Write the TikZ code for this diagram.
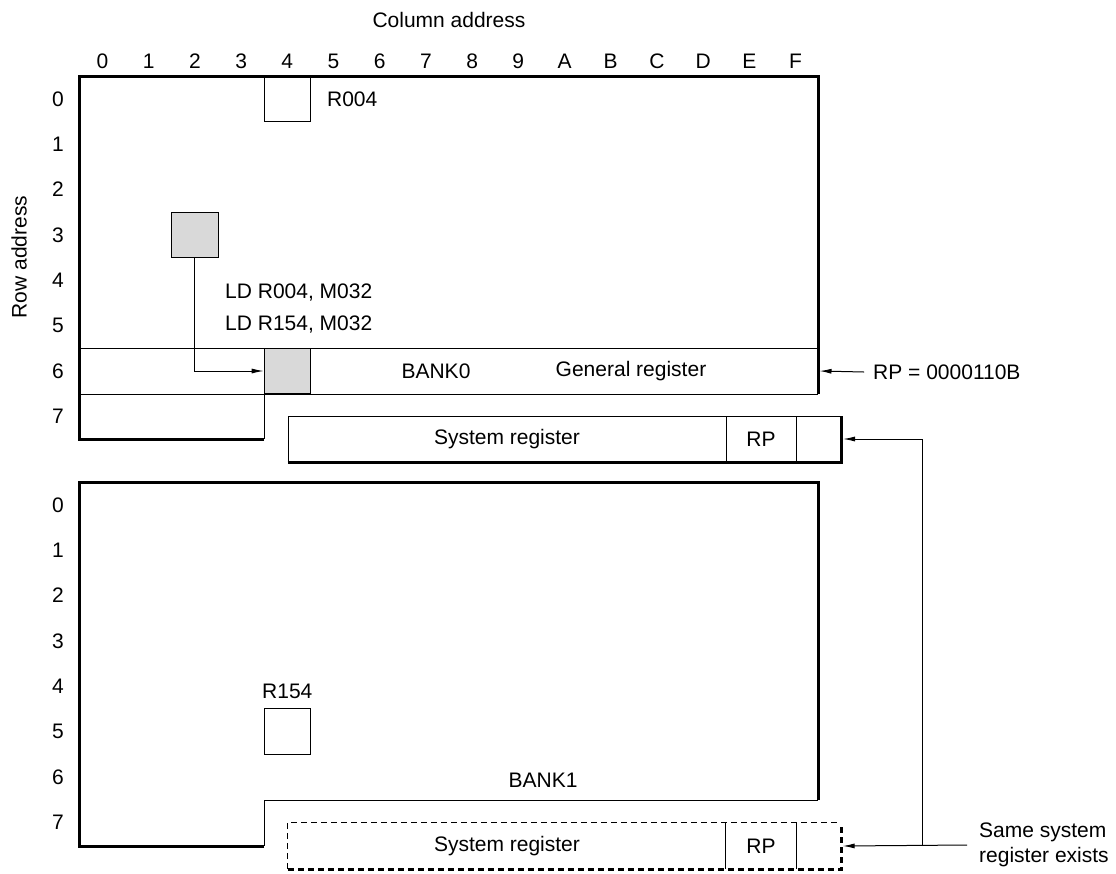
\documentclass[tikz,border=0pt]{standalone}
\usepackage{fontspec}
\setmainfont{Liberation Sans}
\usepackage{tikz}
\usetikzlibrary{arrows.meta,positioning}

\begin{document}
\begin{tikzpicture}[x=1pt, y=-1pt, font=\fontsize{21}{25}\selectfont]
    % Styles
    \tikzstyle{bankedge}=[line width=3pt, line join=miter]
    \tikzstyle{bankline}=[line width=1pt]
    \tikzstyle{dashedge}=[line width=1pt, dash pattern=on 6pt off 4pt]
    \tikzstyle{thickdash}=[line width=3pt, dash pattern=on 6pt off 4pt]
    \tikzstyle{cell}=[rectangle, draw, line width=1pt, minimum width=46.2pt, minimum height=45.3pt, inner sep=0pt]
    \tikzstyle{hitcell}=[cell, fill=black!15]
    \tikzstyle{field}=[rectangle, minimum height=46pt, inner sep=0pt]
    \tikzstyle{txt}=[inner sep=1pt]
    \tikzstyle{arrow}=[-{Latex[length=12pt,width=5pt]}, line width=1pt]

    \useasboundingbox (0,0) rectangle (1116,873);

    % Axis labels
    \node (coladdr) [txt] at (449,20) {Column address};
    \node (rowaddr) [txt, rotate=90] at (19,257) {Row address};
    \foreach \lbl [count=\i from 0] in {0,1,2,3,4,5,6,7,8,9,A,B,C,D,E,F}
        \node (col\lbl) [txt] at ({102.5+46.2*\i},61) {\lbl};
    \foreach \r in {0,...,7} {
        \node (rowa\r) [txt] at (58,{99+45.3*\r}) {\r};
        \node (rowb\r) [txt] at (58,{505+45.3*\r}) {\r};
    }

    % BANK0
    \draw [bankedge] (264,439) -- (79,439) -- (79,76) -- (818,76) -- (818,394);
    \draw [bankline] (79,348) -- (818,348);
    \draw [bankline] (79,394) -- (818,394);
    \draw [bankline] (264,394) -- (264,439);
    \node (r004) [cell] at (287.3,99) {};
    \node (r004lbl) [txt, right=15pt of r004] {R004};
    \node (m032) [hitcell] at (194.9,235) {};
    \node (hit0) [hitcell] at (287.3,371) {};
    \node (ld0) [txt, anchor=west] at (224,293) {LD R004, M032};
    \node (ld1) [txt, anchor=west] at (224,325) {LD R154, M032};
    \node (bank0) [txt] at (436,371) {BANK0};
    \node (genreg) [txt] at (631,371) {General register};
    \node (rpval) [txt, anchor=west] at (872,372) {RP = 0000110B};
    \coordinate (bank0e) at (819.5,371);

    % System register of BANK0
    \node (sysa) [field, draw, line width=1pt, minimum width=438pt] at (507,439) {System register};
    \node (sysb) [field, draw, line width=1pt, minimum width=70pt] at (761,439) {RP};
    \node (sysc) [field, draw, line width=1pt, minimum width=45pt] at (818.5,439) {};
    \draw [bankedge] (sysa.south west) -- (sysc.south east) -- (sysc.north east);

    % BANK1
    \draw [bankedge] (264,846) -- (79,846) -- (79,482) -- (818,482) -- (818,800);
    \draw [bankline] (818,800) -- (264,800) -- (264,846);
    \node (r154) [cell] at (287.3,731.5) {};
    \node (r154lbl) [txt, above=8pt of r154] {R154};
    \node (bank1) [txt] at (543,780) {BANK1};

    % System register of BANK1
    \node (sysa1) [field, minimum width=438pt] at (507,846) {System register};
    \node (sysb1) [field, minimum width=70pt] at (761,846) {RP};
    \node (sysc1) [field, minimum width=45pt] at (818.5,846) {};
    \draw [dashedge] (sysa1.south west) -- (sysa1.north west) -- (sysc1.north east);
    \draw [thickdash] (sysa1.south west) -- (sysc1.south east) -- (sysc1.north east);
    \draw [bankline] (sysb1.north west) -- (sysb1.south west);
    \draw [bankline] (sysb1.north east) -- (sysb1.south east);
    \node (same) [txt, anchor=west, align=left] at (978,845) {Same system\\register exists};
    \coordinate (junc) at (922,846);

    % Connections
    \draw [arrow] (m032.south) |- (hit0.west);
    \draw [arrow] (rpval.west) ++(-8pt,0) -- (bank0e);
    \draw [arrow] (same.west) ++(-11pt,0) -- ([xshift=1.5pt]sysc1.east);
    \draw [arrow] (junc) |- ([xshift=1.5pt]sysc.east);

\end{tikzpicture}
\end{document}
